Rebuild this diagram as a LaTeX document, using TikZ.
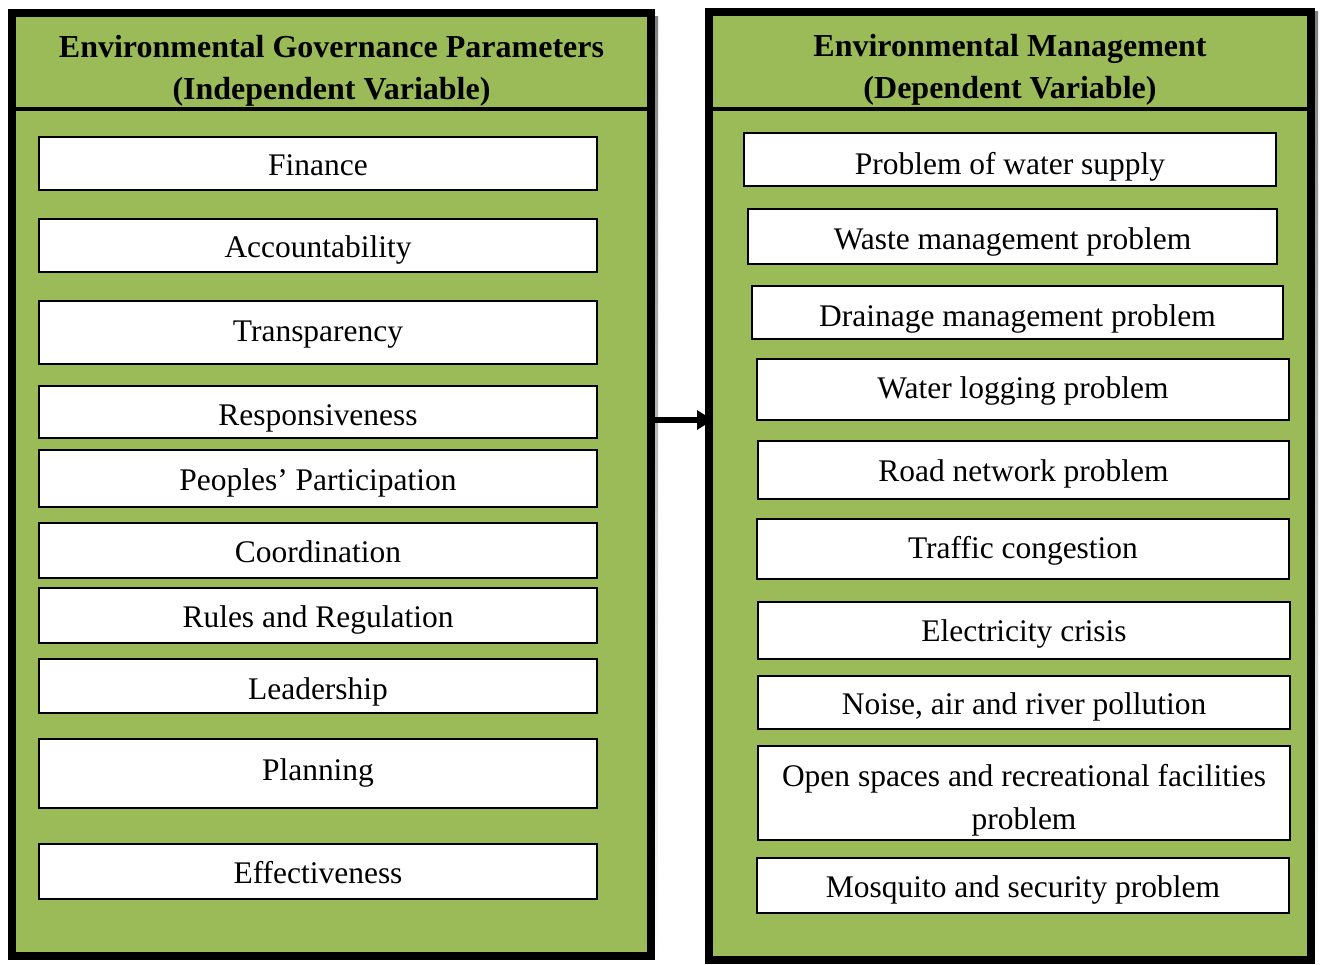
\documentclass[tikz,border=0pt]{standalone}
\usepackage{fontspec}
\setmainfont{Liberation Serif}
\usetikzlibrary{fit,arrows.meta}
\definecolor{leaf}{HTML}{9BBB59}
\definecolor{shade}{HTML}{B4BCA4}
\begin{document}
\begin{tikzpicture}[x=0.75pt,y=-0.75pt,
  every node/.style={font=\fontsize{23.6}{32.25}\selectfont, inner sep=0pt},
  panel/.style={draw=black, fill=leaf, line width=6pt},
  headtext/.style={font=\fontsize{24}{31.5}\selectfont\bfseries, align=center, anchor=base},
  sz/.style 2 args={minimum width={#1*0.75pt}, minimum height={#2*0.75pt}},
  bl/.style={text height={#1*1.5pt}, text depth=0pt},
  cell/.style={draw=black, fill=white, line width=1.5pt, bl=12},
  lcell/.style={cell, sz={558}{#1}},
  divider/.style={line width=3pt},
  link/.style={line width=4.5pt, -{Triangle[length=12pt,width=14pt]}}]
\useasboundingbox (0,0) rectangle (1321,964);
% soft shadows behind the two panels
\fill[shade] (15,16) rectangle (658,962);
\fill[shade] (712,11) rectangle (1318,964);
% panels
\node[panel, fit={(12,13) (651,956)}] (lpanel) {};
\node[panel, fit={(709,12) (1311,960)}] (rpanel) {};
% headings (anchored on the baseline of their second line)
\node[fit={(12,13) (651,109)}] (lhead) {};
\node[headtext] (lheadtext) at (331.5,99) {Environmental Governance Parameters\\(Independent Variable)};
\draw[divider] (lhead.south west) -- (lhead.south east);
\node[fit={(709,12) (1311,109)}] (rhead) {};
\node[headtext] (rheadtext) at (1010,98) {Environmental Management\\(Dependent Variable)};
\draw[divider] (rhead.south west) -- (rhead.south east);
% independent variables
\node[lcell=53] (finance) at (318,163.5) {Finance};
\node[lcell=53] (account) at (318,245.5) {Accountability};
\node[lcell=63, bl=8.5] (transp) at (318,332.5) {Transparency};
\node[lcell=52, bl=13] (respons) at (318,412) {Responsiveness};
\node[lcell=57, bl=11.5] (partic) at (318,478.5) {Peoples’ Participation};
\node[lcell=55] (coord) at (318,550.5) {Coordination};
\node[lcell=55, bl=11.5] (rules) at (318,615.5) {Rules and Regulation};
\node[lcell=54, bl=13] (leader) at (318,686) {Leadership};
\node[lcell=69, bl=6.5] (plan) at (318,773.5) {Planning};
\node[lcell=55, bl=11.5] (effect) at (318,871.5) {Effectiveness};
% dependent variables
\node[cell, sz={532}{53}, bl=14.5] (water) at (1010,159.5) {Problem of water supply};
\node[cell, sz={529}{55}, bl=12.5] (waste) at (1012.5,236.5) {Waste management problem};
\node[cell, sz={531}{53}, bl=13.5] (drain) at (1017.5,312.5) {Drainage management problem};
\node[cell, sz={532}{61}, bl=8.5] (logging) at (1023,389.5) {Water logging problem};
\node[cell, sz={531}{58}, bl=11] (road) at (1023.5,470) {Road network problem};
\node[cell, sz={532}{60}, bl=9] (traffic) at (1023,549) {Traffic congestion};
\node[cell, sz={532}{57}, bl=10.5] (power) at (1024,630.5) {Electricity crisis};
\node[cell, sz={532}{53}, bl=11.5] (noise) at (1024,702.5) {Noise, air and river pollution};
\node[cell, sz={532}{94}, align=center, text height=54pt, text depth=0pt] (open) at (1024,793)
  {Open spaces and recreational facilities\\problem};
\node[cell, sz={532}{55}, bl=11.5] (mosq) at (1023,885.5) {Mosquito and security problem};
% relation between the two sets of variables
\draw[link] (lpanel.east |- 0,420) -- (713,420) coordinate (tip);
\end{tikzpicture}
\end{document}
